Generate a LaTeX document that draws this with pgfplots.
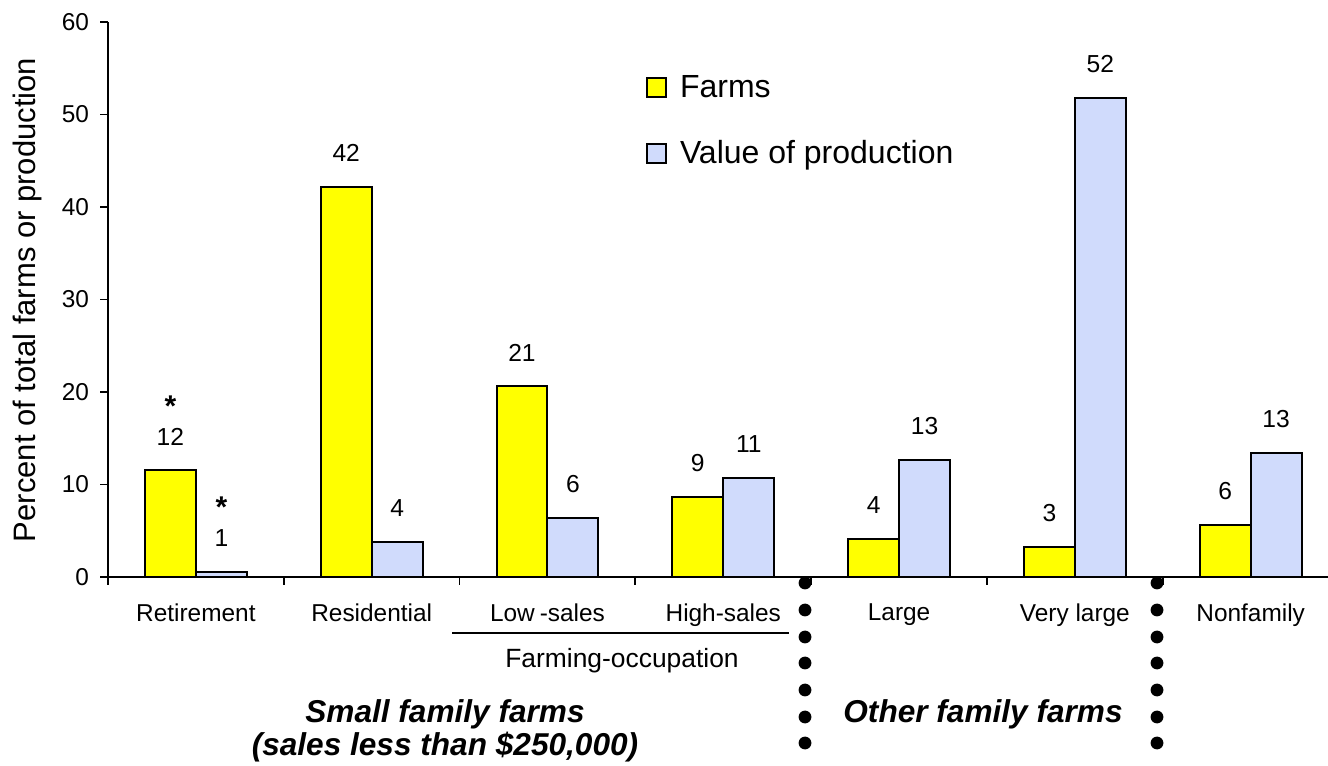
\documentclass[border=0pt]{standalone}
\usepackage{pgfplots}
\pgfplotsset{compat=1.18}
\usepackage{pgfplotstable}
\usepackage{fontspec}
\setmainfont{Liberation Sans}

\definecolor{farmyellow}{RGB}{255,255,0}
\definecolor{valueblue}{RGB}{208,219,252}

% shares of farms and of value of production, by farm type (percent)
\pgfplotstableread{
x  farms  value
0  11.52  0.54
1  42.2   3.8
2  20.6   6.4
3  8.6    10.7
4  4.1    12.6
5  3.2    51.8
6  5.6    13.4
}\farmdata

\begin{document}
\begin{tikzpicture}
\begin{axis}[
  at={(54bp,94.5bp)}, anchor=south west,
  scale only axis, width=610bp, height=277.5bp,
  xmin=-0.5, xmax=6.44, ymin=0, ymax=60,
  clip=false,
  axis x line*=bottom, axis y line*=left,
  axis line style={line width=0.9bp, black},
  ytick={0,10,...,60},
  xtick={0,...,6},
  xticklabels={Retirement,Residential,Low\kern2.5bp-sales,High-sales,Large,Very large,Nonfamily},
  major x tick style={draw=none},
  minor xtick={-0.5,0.5,...,5.5},
  minor x tick style={line width=0.9bp, black},
  ytick style={line width=0.9bp, black},
  tick align=outside,
  major tick length=4bp, minor tick length=4bp,
  ticklabel style={font=\fontsize{12.2bp}{14bp}\selectfont},
  xticklabel style={yshift=-6bp},
  yticklabel style={xshift=-2bp},
  /pgf/number format/fixed,
  /pgf/number format/precision=0,
  /pgf/number format/assume math mode=true,
  ybar=0pt, bar width=0.29,
  nodes near coords,
  nodes near coords style={font=\fontsize{12.3bp}{14bp}\selectfont, anchor=center, yshift=17bp, inner sep=1bp},
  legend style={at={(0.441,0.9045)}, anchor=north west, draw=none, fill=none,
    inner sep=0pt, outer sep=0pt, row sep=20bp, column sep=6.5bp,
    font=\fontsize{16bp}{19bp}\selectfont, nodes={inner sep=0pt}},
  legend cell align=left,
  legend image code/.code={\draw[#1, line width=1bp] (0bp,-4.75bp) rectangle (9.5bp,4.75bp);},
]
\addplot[fill=farmyellow, draw=black, line width=1bp] table[x=x, y=farms]{\farmdata};
\addlegendentry{Farms}
\addplot[fill=valueblue, draw=black, line width=1bp] table[x=x, y=value]{\farmdata};
\addlegendentry{Value of production}

% asterisks flagging the retirement figures
\node[anchor=base, inner sep=0pt, font=\fontsize{15bp}{15bp}\selectfont\bfseries, yshift=27bp] at (axis cs:-0.145,11.52) {*};
\node[anchor=base, inner sep=0pt, font=\fontsize{15bp}{15bp}\selectfont\bfseries, yshift=27.5bp] at (axis cs:0.145,0.54) {*};
\end{axis}

% y axis title
\node[rotate=90, font=\fontsize{15.5bp}{18bp}\selectfont] at (13.5bp,233bp) {Percent of total farms or production};

% farming-occupation bracket
\draw[line width=1bp] (226bp,66.6bp) -- (394.5bp,66.6bp);
\node[anchor=base, font=\fontsize{13.2bp}{15bp}\selectfont] at (311bp,49bp) {Farming-occupation};

% group titles
\node[anchor=base, font=\fontsize{15.8bp}{18bp}\selectfont\bfseries\itshape] at (222.5bp,22bp) {Small family farms};
\node[anchor=base, font=\fontsize{15.8bp}{18bp}\selectfont\bfseries\itshape] at (222.5bp,5.5bp) {(sales less than \$250,000)};
\node[anchor=base, font=\fontsize{15.8bp}{18bp}\selectfont\bfseries\itshape] at (491.5bp,22bp) {Other family farms};

% dotted separators between groups
\foreach \xx in {402.5bp,578.5bp}{
  \foreach \yy in {91.5bp,78bp,64.5bp,51.5bp,38bp,24.5bp,11.5bp}{
    \fill (\xx,\yy) circle (3.2bp);
  }
}

\pgfresetboundingbox
\path (0,0) rectangle (664bp,383bp);
\end{tikzpicture}
\end{document}
